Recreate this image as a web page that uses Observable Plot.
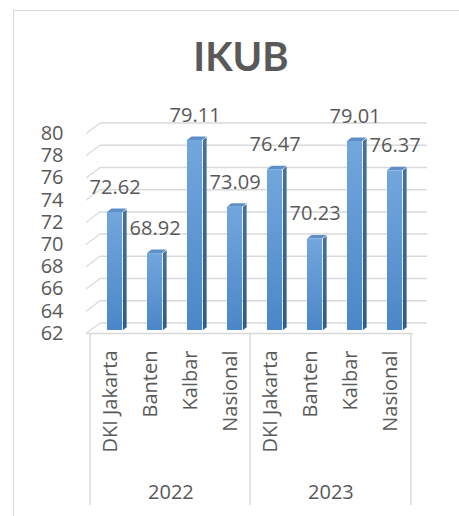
<!DOCTYPE html>
<html>
<head>
<meta charset="utf-8">
<script src="https://cdn.jsdelivr.net/npm/d3@7"></script>
<script src="https://cdn.jsdelivr.net/npm/@observablehq/plot@0.6"></script>
<style>
  body { margin: 0; background: #fff; }
  #wrap { position: relative; width: 459px; height: 516px; overflow: hidden; background: #fff; }
  #border { position: absolute; left: 13px; top: 10px; width: 470px; height: 530px;
            border-left: 1.5px solid #d9d9d9; border-top: 1.5px solid #d9d9d9; }
  #title { position: absolute; left: 0; width: 482px; top: 36px; text-align: center;
           font-family: Lato, sans-serif; font-weight: bold; font-size: 40px; line-height: 40px; color: #595959; }
  #chart { position: absolute; left: 0; top: 90px; }
  g.side rect, g[fill="url(#gSide)"] rect { transform-box: fill-box; transform-origin: 0 100%; transform: skewY(-38deg); }
  g.topf rect, g[fill="url(#gTop)"] rect { transform-box: fill-box; transform-origin: 0 100%; transform: skewX(-52deg); }
  g.diag line, g[stroke="#d9d9da"] line { transform-box: fill-box; transform-origin: 0 0; transform: skewY(-37deg); }
</style>
</head>
<body>
<div id="wrap">
  <div id="border"></div>
  <div id="title">IKUB</div>
  <div id="chart"></div>
</div>
<script>
const years = ["2022", "2022", "2022", "2022", "2023", "2023", "2023", "2023"];
const categories = ["DKI Jakarta", "Banten", "Kalbar", "Nasional", "DKI Jakarta", "Banten", "Kalbar", "Nasional"];
const values = [72.62, 68.92, 79.11, 73.09, 76.47, 70.23, 79.01, 76.37];
const yTicks = [62, 64, 66, 68, 70, 72, 74, 76, 78, 80];
const yearLabels = ["2022", "2023"];

const data = values.map((v, i) => ({key: years[i] + "|" + categories[i], year: years[i], cat: categories[i], value: v}));
const keys = data.map(d => d.key);

const W = 459, H = 426;
const mL = 86, mR = 46, mT = 43, mB = 183;
const bw = (W - mL - mR) / keys.length;
const frameH = H - mT - mB;
const backDx = 14, backDy = -10.5;
const faceL = 13, faceW = 16, sideW = 4.5, topH = 3.5, barDx = 4, barDy = -3;

// first key of each year group, and last key overall
const groupFirst = yearLabels.map(y => keys.find(k => k.startsWith(y + "|")));
const groupMid = yearLabels.map(y => keys.filter(k => k.startsWith(y + "|")));
const yearData = yearLabels.map((y, i) => ({year: y, key: groupMid[i][1]}));
const lastKey = [keys[keys.length - 1]];

const defs = () => {
  const d = d3.create("svg:defs");
  const mk = (id, c1, c2) => {
    const g = d.append("linearGradient").attr("id", id).attr("x1", 0).attr("y1", 0).attr("x2", 0).attr("y2", 1);
    g.append("stop").attr("offset", "0%").attr("stop-color", c1);
    g.append("stop").attr("offset", "100%").attr("stop-color", c2);
  };
  mk("gFront", "#72a7dd", "#4a87c8");
  mk("gSide", "#44719f", "#2f5b8a");
  mk("gTop", "#5d8fc6", "#5d8fc6");
  return d.node();
};

const chart = Plot.plot({
  width: W, height: H,
  marginLeft: mL, marginRight: mR, marginTop: mT, marginBottom: mB,
  style: {fontFamily: "'Open Sans', sans-serif", fontSize: "20px", color: "#595959", background: "transparent", overflow: "visible"},
  x: {domain: keys, padding: 0, tickFormat: k => k.split("|")[1], tickRotate: -90, tickSize: 0, tickPadding: 17, label: null},
  y: {domain: [62, 80], ticks: yTicks, tickSize: 0, tickPadding: 23, label: null},
  marks: [
    defs,
    // back wall gridlines
    Plot.ruleY(yTicks, {stroke: "#d9d9d9", strokeWidth: 1.5, dx: backDx, dy: backDy}),
    // diagonal left side-wall segments
    Plot.ruleY(yTicks, {stroke: "#d9d9da", strokeWidth: 1.5, insetRight: W - mL - mR - backDx, className: "diag"}),
    // front floor line
    Plot.ruleY([62], {stroke: "#d9d9d9", strokeWidth: 1.5}),
    // bar side faces
    Plot.barY(data, {x: "key", y1: 62, y2: "value", fill: "url(#gSide)", insetLeft: faceL + faceW, insetRight: bw - faceL - faceW - sideW, dx: barDx, dy: barDy, className: "side"}),
    // bar top faces
    Plot.barY(data, {x: "key", y1: "value", y2: "value", fill: "url(#gTop)", insetLeft: faceL, insetRight: bw - faceL - faceW, insetTop: -topH, insetBottom: 0, dx: barDx, dy: barDy, className: "topf"}),
    // bar front faces
    Plot.barY(data, {x: "key", y1: 62, y2: "value", fill: "url(#gFront)", insetLeft: faceL, insetRight: bw - faceL - faceW, dx: barDx, dy: barDy}),
    // value labels
    Plot.text(data, {x: "key", y: "value", text: d => d.value.toFixed(2), dx: 4.6, dy: -28, fill: "#595959", fontSize: 20, lineAnchor: "middle"}),
    // group separators
    Plot.ruleX(groupFirst, {x: d => d, stroke: "#d9d9d9", strokeWidth: 1.5, dx: -bw / 2, insetTop: frameH, insetBottom: -172}),
    Plot.ruleX(lastKey, {x: d => d, stroke: "#d9d9d9", strokeWidth: 1.5, dx: bw / 2, insetTop: frameH, insetBottom: -172}),
    // year labels
    Plot.text(yearData, {x: "key", text: "year", frameAnchor: "bottom", dx: bw / 2, dy: 159, fill: "#595959", fontSize: 20, lineAnchor: "middle"})
  ]
});
document.getElementById("chart").appendChild(chart);
</script>
</body>
</html>
